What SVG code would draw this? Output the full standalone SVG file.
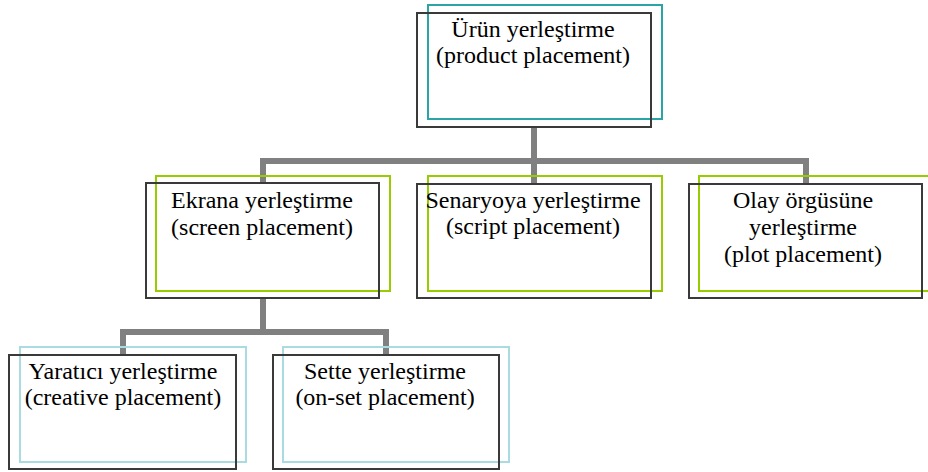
<svg xmlns="http://www.w3.org/2000/svg" width="928" height="472" viewBox="0 0 928 472">
<style>
.dk{fill:none;stroke:#3a3a3a;stroke-width:2}
.tl{fill:none;stroke:#2aa5a5;stroke-width:2}
.gr{fill:none;stroke:#99cc00;stroke-width:2}
.cy{fill:none;stroke:#a9dbe0;stroke-width:2}
.cn{fill:none;stroke:#808080;stroke-width:6;stroke-linejoin:miter}
.t{font-family:'Liberation Serif','Times New Roman',serif;font-size:24px;fill:#000;text-anchor:middle}
</style>
<rect width="928" height="472" fill="#fff"/>
<g id="connectors">
<path class="cn" d="M534,127 V161 M263,183 V161 H806 V184 M534,161 V184"/>
<path class="cn" d="M263,298 V332 M123,355 V332 H386 V355"/>
</g>
<g id="n-product">
<rect class="tl" x="428" y="5" width="234" height="114"/>
<rect class="dk" x="417" y="13" width="234" height="114"/>
<text class="t" x="533" y="37">Ürün yerleştirme</text>
<text class="t" x="533" y="63">(product placement)</text>
</g>
<g id="n-screen">
<rect class="gr" x="156" y="176" width="234" height="115"/>
<rect class="dk" x="146" y="183" width="233" height="115"/>
<text class="t" x="262" y="208">Ekrana yerleştirme</text>
<text class="t" x="262" y="235">(screen placement)</text>
</g>
<g id="n-script">
<rect class="gr" x="428" y="176" width="234" height="115"/>
<rect class="dk" x="417" y="184" width="234" height="114"/>
<text class="t" x="533" y="208">Senaryoya yerleştirme</text>
<text class="t" x="533" y="234">(script placement)</text>
</g>
<g id="n-plot">
<rect class="gr" x="699" y="176" width="234" height="115"/>
<rect class="dk" x="689" y="184" width="233" height="114"/>
<text class="t" x="803" y="208">Olay örgüsüne</text>
<text class="t" x="803" y="235">yerleştirme</text>
<text class="t" x="803" y="262">(plot placement)</text>
</g>
<g id="n-creative">
<rect class="cy" x="20" y="347" width="226" height="115"/>
<rect class="dk" x="9" y="355" width="227" height="114"/>
<text class="t" x="123" y="379">Yaratıcı yerleştirme</text>
<text class="t" x="123" y="405">(creative placement)</text>
</g>
<g id="n-onset">
<rect class="cy" x="283" y="347" width="226" height="115"/>
<rect class="dk" x="273" y="355" width="226" height="114"/>
<text class="t" x="385" y="379">Sette yerleştirme</text>
<text class="t" x="385" y="405">(on-set placement)</text>
</g>
</svg>
